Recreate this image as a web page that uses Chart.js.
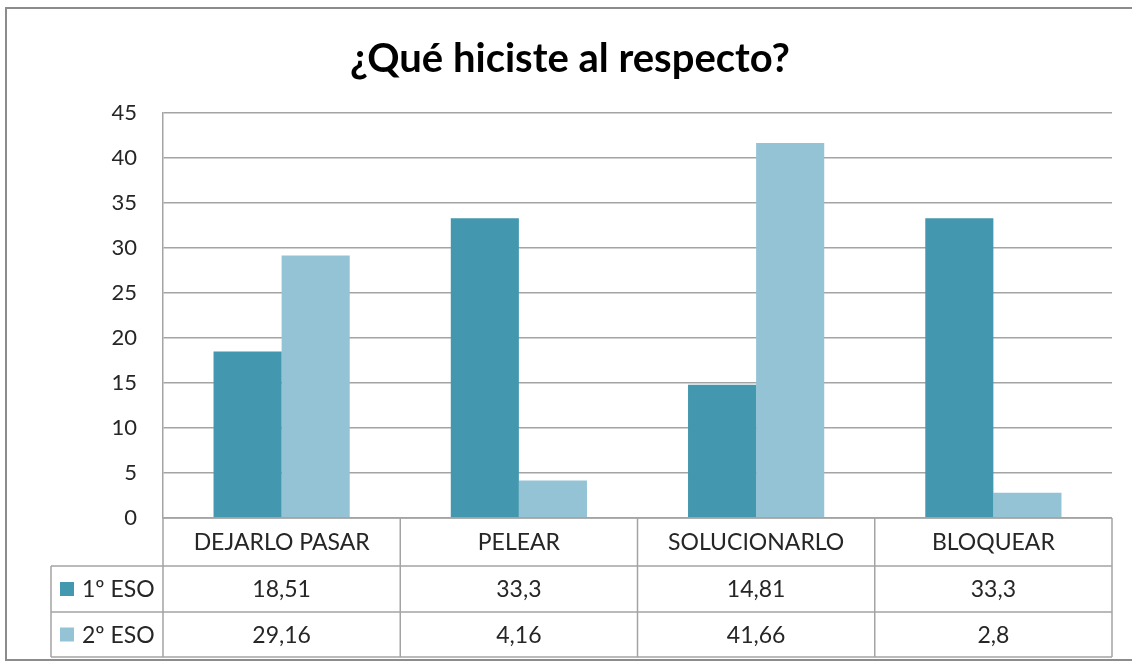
<!DOCTYPE html>
<html>
<head>
<meta charset="utf-8">
<script src="https://cdn.jsdelivr.net/npm/chart.js@4"></script>
<style>
    body { margin: 0; background: #fff; }
    #wrap { width: 1132px; height: 662px; position: relative; }
</style>
</head>
<body>
<div id="wrap"><canvas id="chart" width="1132" height="662"></canvas></div>
<script>
// Datos del grafico
const CATEGORIAS = ['DEJARLO PASAR', 'PELEAR', 'SOLUCIONARLO', 'BLOQUEAR'];
const SERIES = ['1º ESO', '2º ESO'];
const ESO_1 = [18.51, 33.3, 14.81, 33.3];
const ESO_2 = [29.16, 4.16, 41.66, 2.8];
const Y_MIN = 0;
const Y_MAX = 45;
const Y_STEP = 5;

const COLORES = ['#4397ae', '#93c3d5'];
const GRID = '#a4a4a4';
const FONT = 'Lato, "Open Sans", sans-serif';
const TEXT = '#262626';

// Marco exterior
const framePlugin = {
    id: 'frame',
    beforeDraw(chart) {
        const ctx = chart.ctx;
        ctx.save();
        ctx.strokeStyle = '#8c8c8c';
        ctx.lineWidth = 2;
        ctx.strokeRect(6, 8, 1140, 652);
        ctx.restore();
    }
};

// Tabla de datos bajo el grafico
const dataTablePlugin = {
    id: 'dataTable',
    afterDraw(chart) {
        const ctx = chart.ctx;
        const x = chart.scales.x;
        const area = chart.chartArea;
        const n = CATEGORIAS.length;
        const colW = (area.right - area.left) / n;
        const top = area.bottom;
        const rows = [top, top + 48, top + 94, top + 139];
        const labelLeft = 51;
        const right = area.left + colW * n;

        ctx.save();
        ctx.strokeStyle = GRID;
        ctx.lineWidth = 1.5;

        // lineas horizontales
        ctx.beginPath();
        ctx.moveTo(area.left, rows[0]);
        ctx.lineTo(right, rows[0]);
        for (let r = 1; r < rows.length; r++) {
            ctx.moveTo(labelLeft, rows[r]);
            ctx.lineTo(right, rows[r]);
        }
        // lineas verticales
        for (let c = 0; c <= n; c++) {
            const cx = area.left + colW * c;
            ctx.moveTo(cx, rows[0]);
            ctx.lineTo(cx, rows[3]);
        }
        ctx.moveTo(labelLeft, rows[1]);
        ctx.lineTo(labelLeft, rows[3]);
        ctx.stroke();

        ctx.fillStyle = TEXT;
        ctx.font = '23px ' + FONT;
        ctx.textAlign = 'center';
        ctx.textBaseline = 'middle';

        CATEGORIAS.forEach((cat, i) => {
            const cx = x.getPixelForValue(i);
            ctx.fillText(cat, cx, (rows[0] + rows[1]) / 2 + 1);
            ctx.fillText(String(ESO_1[i]).replace('.', ','), cx, (rows[1] + rows[2]) / 2 + 1);
            ctx.fillText(String(ESO_2[i]).replace('.', ','), cx, (rows[2] + rows[3]) / 2 + 1);
        });

        // etiquetas de serie con su cuadro de color
        ctx.textAlign = 'left';
        SERIES.forEach((name, s) => {
            const cy = (rows[s + 1] + rows[s + 2]) / 2;
            ctx.fillStyle = COLORES[s];
            ctx.fillRect(60, cy - 7, 14, 14);
            ctx.fillStyle = TEXT;
            ctx.fillText(name, 82, cy + 1);
        });
        ctx.restore();
    }
};

const chart = new Chart(document.getElementById('chart'), {
    type: 'bar',
    data: {
        labels: CATEGORIAS,
        datasets: [
            {
                label: SERIES[0],
                data: ESO_1,
                backgroundColor: COLORES[0],
                borderWidth: 0,
                categoryPercentage: 0.574,
                barPercentage: 1
            },
            {
                label: SERIES[1],
                data: ESO_2,
                backgroundColor: COLORES[1],
                borderWidth: 0,
                categoryPercentage: 0.574,
                barPercentage: 1
            }
        ]
    },
    options: {
        responsive: false,
        animation: false,
        devicePixelRatio: 1,
        layout: {
            padding: { top: 0, left: 28, right: 20, bottom: 144 }
        },
        plugins: {
            legend: { display: false },
            tooltip: { enabled: false },
            title: {
                display: true,
                text: '¿Qué hiciste al respecto?',
                color: '#000',
                font: { family: FONT, size: 40, weight: 'bold', lineHeight: 1.2 },
                padding: { top: 35, bottom: 30 }
            }
        },
        scales: {
            x: {
                display: false
            },
            y: {
                min: Y_MIN,
                max: Y_MAX,
                ticks: {
                    stepSize: Y_STEP,
                    color: TEXT,
                    padding: 26,
                    font: { family: FONT, size: 22 }
                },
                grid: {
                    color: GRID,
                    lineWidth: 1.5,
                    drawTicks: false
                },
                border: {
                    display: true,
                    color: GRID,
                    width: 1.5
                },
                afterFit(scale) {
                    scale.width = 135;
                }
            }
        }
    },
    plugins: [framePlugin, dataTablePlugin]
});
</script>
</body>
</html>
